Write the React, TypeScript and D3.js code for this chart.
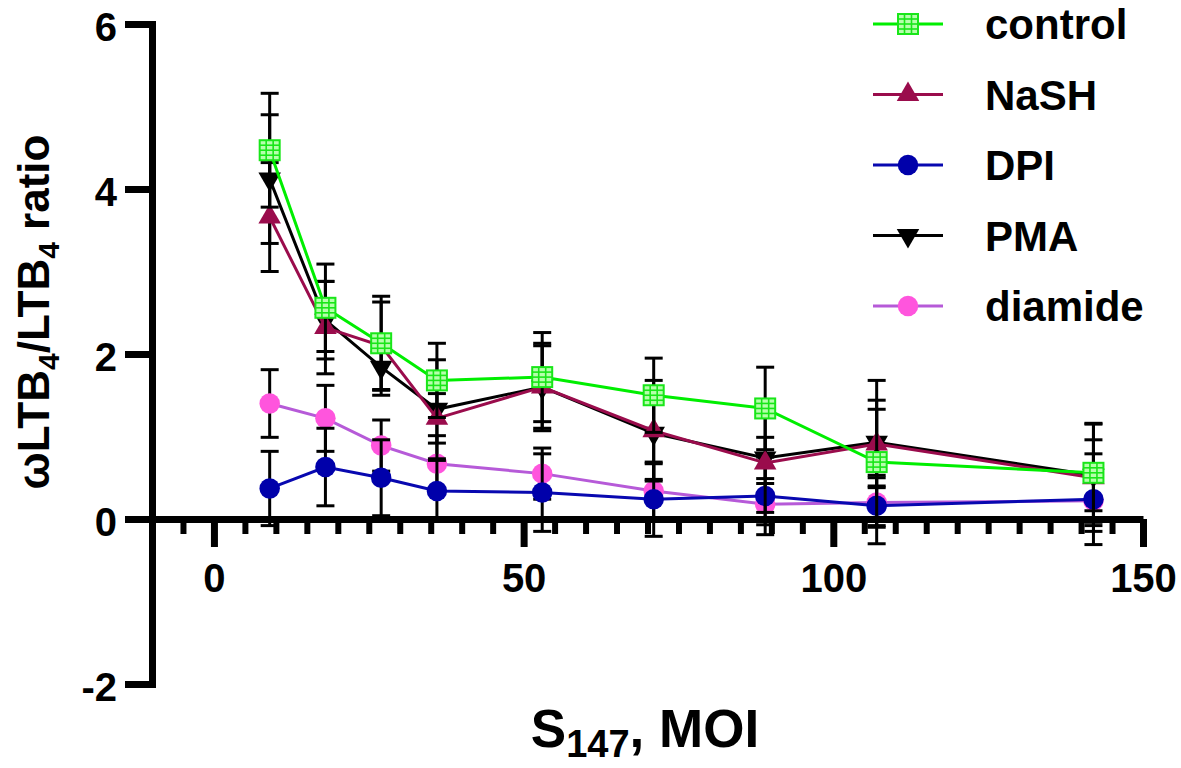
import { useEffect, useRef } from 'react';
import * as d3 from 'd3';

// MOI values on the x axis
const moi = [9, 18, 27, 36, 53, 71, 89, 107, 142];

const controlMean = [4.47, 2.56, 2.13, 1.68, 1.72, 1.50, 1.34, 0.69, 0.56];
const controlSd = [0.69, 0.53, 0.57, 0.45, 0.54, 0.45, 0.50, 0.99, 0.60];

const nashMean = [3.66, 2.32, 2.10, 1.22, 1.60, 1.07, 0.68, 0.91, 0.50];
const nashSd = [0.66, 0.56, 0.53, 0.30, 0.53, 0.61, 0.60, 0.53, 0.65];

const dpiMean = [0.37, 0.63, 0.50, 0.34, 0.32, 0.24, 0.28, 0.16, 0.24];
const dpiSd = [0.45, 0.47, 0.46, 0.37, 0.47, 0.45, 0.47, 0.24, 0.55];

const pmaMean = [4.12, 2.41, 1.84, 1.33, 1.60, 1.04, 0.74, 0.93, 0.53];
const pmaSd = [0.78, 0.47, 0.34, 0.60, 0.50, 0.56, 0.25, 0.40, 0.43];

const diamideMean = [1.40, 1.22, 0.89, 0.67, 0.55, 0.34, 0.18, 0.20, 0.22];
const diamideSd = [0.41, 0.40, 0.31, 0.34, 0.31, 0.33, 0.25, 0.30, 0.30];

const seriesNames = ["control", "NaSH", "DPI", "PMA", "diamide"];
const xTicks = [0, 50, 100, 150];
const yTicks = [-2, 0, 2, 4, 6];

type Kind = "square" | "up" | "circle" | "down";

interface Series {
    name: string;
    mean: number[];
    sd: number[];
    line: string;
    fill: string;
    kind: Kind;
}

const FONT = "'Liberation Sans', Arial, Helvetica, sans-serif";

function drawMarker(
    g: d3.Selection<SVGGElement, unknown, null, undefined>,
    s: Series,
    cx: number,
    cy: number
) {
    const m = g.append("g").attr("transform", `translate(${cx},${cy})`);
    if (s.kind === "square") {
        m.append("rect")
            .attr("x", -10).attr("y", -10)
            .attr("width", 20).attr("height", 20)
            .attr("fill", "#b6ffac")
            .attr("stroke", s.fill)
            .attr("stroke-width", 2);
        [-3.5, 3.5].forEach(dx => {
            m.append("line")
                .attr("x1", dx).attr("x2", dx).attr("y1", -10).attr("y2", 10)
                .attr("stroke", s.fill).attr("stroke-width", 1.6);
        });
        [-5, 0, 5].forEach(dy => {
            m.append("line")
                .attr("x1", -10).attr("x2", 10).attr("y1", dy).attr("y2", dy)
                .attr("stroke", s.fill).attr("stroke-width", 1.6);
        });
        return;
    }
    const shape = s.kind === "circle" ? d3.symbolCircle : d3.symbolTriangle;
    const size = s.kind === "circle" ? 330 : 220;
    m.append("path")
        .attr("d", d3.symbol(shape, size)() || "")
        .attr("transform", s.kind === "down" ? "rotate(180)" : null)
        .attr("fill", s.fill);
}

export default function App() {
    const svgRef = useRef<SVGSVGElement>(null);

    useEffect(() => {
        const svg = d3.select(svgRef.current);
        svg.selectAll("*").remove();

        const series: Series[] = [
            { name: seriesNames[0], mean: controlMean, sd: controlSd, line: "#00ee00", fill: "#19e619", kind: "square" },
            { name: seriesNames[1], mean: nashMean, sd: nashSd, line: "#9a0c4c", fill: "#9a0c4c", kind: "up" },
            { name: seriesNames[2], mean: dpiMean, sd: dpiSd, line: "#0808b0", fill: "#0000aa", kind: "circle" },
            { name: seriesNames[3], mean: pmaMean, sd: pmaSd, line: "#000000", fill: "#000000", kind: "down" },
            { name: seriesNames[4], mean: diamideMean, sd: diamideSd, line: "#b65ad8", fill: "#ff55dd", kind: "circle" },
        ];

        const x = d3.scaleLinear().domain([-10, 150]).range([152, 1143]);
        const y = d3.scaleLinear().domain([-2, 6]).range([684, 24]);

        const root = svg.append("g").style("font-family", FONT).style("font-weight", "bold");

        // Y axis
        const yAxis = root.append("g")
            .attr("transform", `translate(${x(-10)},0)`)
            .call(d3.axisLeft(y).tickValues(yTicks).tickSize(27).tickSizeOuter(0).tickPadding(8).tickFormat(d => String(d)));
        yAxis.select(".domain").attr("stroke", "#000").attr("stroke-width", 7).attr("stroke-linecap", "square");
        yAxis.selectAll(".tick line").attr("stroke", "#000").attr("stroke-width", 7);
        yAxis.selectAll(".tick text")
            .attr("fill", "#000")
            .style("font-size", "40px")
            .style("font-family", FONT)
            .style("font-weight", "bold")
            .attr("dy", "0.40em");

        // X axis at y = 0
        const xAxis = root.append("g")
            .attr("transform", `translate(0,${y(0)})`);
        xAxis.append("g")
            .call(d3.axisBottom(x).tickValues(d3.range(-5, 150, 5).filter(v => v % 50 !== 0)).tickSize(15).tickSizeOuter(0).tickFormat(() => ""))
            .call(a => a.select(".domain").remove())
            .selectAll(".tick line").attr("stroke", "#000").attr("stroke-width", 6);
        const major = xAxis.append("g")
            .call(d3.axisBottom(x).tickValues(xTicks).tickSize(28).tickSizeOuter(0).tickPadding(17).tickFormat(d => String(d)));
        major.select(".domain").attr("stroke", "#000").attr("stroke-width", 7);
        major.selectAll(".tick line").attr("stroke", "#000").attr("stroke-width", 7);
        major.selectAll(".tick text")
            .attr("fill", "#000")
            .style("font-size", "40px")
            .style("font-family", FONT)
            .style("font-weight", "bold");

        // Data sets: drawn last-first, each with its line, error bars and markers
        const line = d3.line<number>()
            .x((_, i) => x(moi[i]))
            .y(d => y(d));
        const capHalf = 9;

        series.slice().reverse().forEach(s => {
            root.append("path")
                .datum(s.mean)
                .attr("fill", "none")
                .attr("stroke", s.line)
                .attr("stroke-width", 3)
                .attr("d", line);

            const eb = root.append("g").attr("stroke", "#000").attr("stroke-width", 3);
            s.mean.forEach((m, i) => {
                const cx = x(moi[i]);
                const hi = y(m + s.sd[i]);
                const lo = y(m - s.sd[i]);
                eb.append("line").attr("x1", cx).attr("x2", cx).attr("y1", hi).attr("y2", lo);
                eb.append("line").attr("x1", cx - capHalf).attr("x2", cx + capHalf).attr("y1", hi).attr("y2", hi);
                eb.append("line").attr("x1", cx - capHalf).attr("x2", cx + capHalf).attr("y1", lo).attr("y2", lo);
            });

            const mg = root.append("g");
            s.mean.forEach((m, i) => drawMarker(mg, s, x(moi[i]), y(m)));
        });

        // Legend
        const legendY = d3.scalePoint<string>().domain(seriesNames).range([24, 306]);
        const legend = root.append("g");
        series.forEach(s => {
            const ly = legendY(s.name) || 0;
            legend.append("line")
                .attr("x1", 873).attr("x2", 943).attr("y1", ly).attr("y2", ly)
                .attr("stroke", s.line).attr("stroke-width", 3);
            drawMarker(legend, s, 908, ly);
            legend.append("text")
                .attr("x", 985).attr("y", ly).attr("dy", "0.36em")
                .style("font-size", "42px")
                .attr("fill", "#000")
                .text(s.name);
        });

        // Axis titles
        const xt = root.append("text")
            .attr("x", 645).attr("y", 747)
            .attr("text-anchor", "middle")
            .style("font-size", "53px")
            .attr("fill", "#000");
        xt.append("tspan").text("S");
        xt.append("tspan").attr("dy", 10).style("font-size", "38px").text("147");
        xt.append("tspan").attr("dy", -10).text(", MOI");

        const yt = root.append("text")
            .attr("transform", "translate(49,312) rotate(-90)")
            .attr("text-anchor", "middle")
            .style("font-size", "44px")
            .attr("fill", "#000");
        yt.append("tspan").text("ωLTB");
        yt.append("tspan").attr("dy", 10).style("font-size", "30px").text("4");
        yt.append("tspan").attr("dy", -10).text("/LTB");
        yt.append("tspan").attr("dy", 10).style("font-size", "30px").text("4");
        yt.append("tspan").attr("dy", -10).text(" ratio");
    }, []);

    return (
        <svg
            ref={svgRef}
            width={1181}
            height={768}
            style={{ position: "absolute", left: 0, top: 0, background: "#fff" }}
        />
    );
}
